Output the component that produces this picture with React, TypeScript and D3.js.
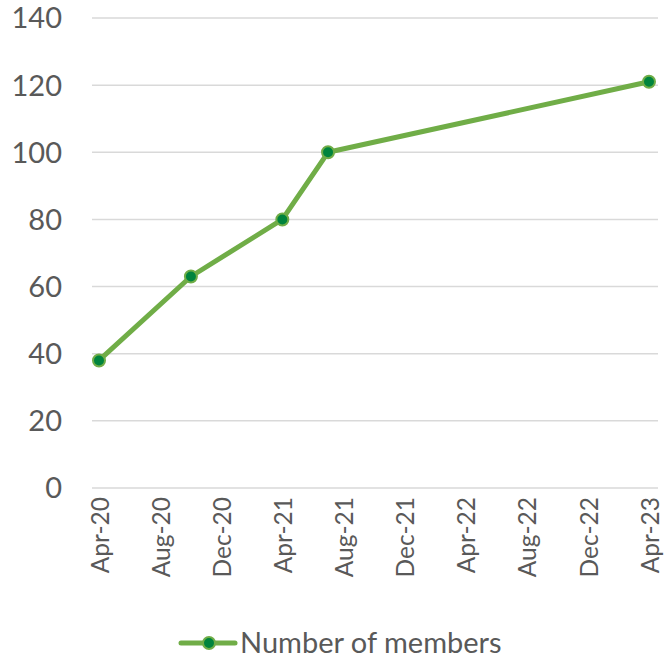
import { useEffect, useRef } from 'react';
import * as d3 from 'd3';

// member counts
const dates = ['2020-04-01', '2020-10-01', '2021-04-01', '2021-07-01', '2023-04-01'];
const members = [38, 63, 80, 100, 121];
const yTicks = [0, 20, 40, 60, 80, 100, 120, 140];
const seriesName = 'Number of members';

const W = 666;
const H = 659;
const FONT = 'Lato, "Open Sans", sans-serif';
const TEXT = '#595959';
const LINE = '#70AD47';
const MARK = '#00843D';

export default function App() {
  const svgRef = useRef<SVGSVGElement>(null);

  useEffect(() => {
    if (!svgRef.current) return;
    const svg = d3.select(svgRef.current);
    svg.selectAll('*').remove();

    const parse = d3.timeParse('%Y-%m-%d');
    const pts = dates.map((d, i) => ({ date: parse(d)!, value: members[i] }));

    const start = parse('2020-04-01')!;
    const end = parse('2023-04-01')!;
    const x = d3.scaleTime().domain([start, end]).range([99, 649]);
    const y = d3.scaleLinear().domain([0, 140]).range([488, 18]);

    const gridLeft = 92;
    const gridRight = 658;

    // gridlines
    svg.append('g')
      .selectAll('line')
      .data(yTicks)
      .enter()
      .append('line')
      .attr('x1', gridLeft)
      .attr('x2', gridRight)
      .attr('y1', d => y(d))
      .attr('y2', d => y(d))
      .attr('stroke', '#d9d9d9')
      .attr('stroke-width', 1.5);

    // y labels
    svg.append('g')
      .selectAll('text')
      .data(yTicks)
      .enter()
      .append('text')
      .attr('x', 62)
      .attr('y', d => y(d))
      .attr('dy', '0.36em')
      .attr('text-anchor', 'end')
      .attr('font-family', FONT)
      .attr('font-size', 29)
      .attr('fill', TEXT)
      .text(d => d);

    // x labels, every 4 months
    const xTicks = d3.timeMonth.range(start, d3.timeMonth.offset(end, 1), 4);
    const fmt = d3.timeFormat('%b-%y');
    svg.append('g')
      .selectAll('text')
      .data(xTicks)
      .enter()
      .append('text')
      .attr('transform', d => `translate(${x(d) + 9.5},497) rotate(-90)`)
      .attr('text-anchor', 'end')
      .attr('font-family', FONT)
      .attr('font-size', 24.5)
      .attr('fill', TEXT)
      .text(d => fmt(d));

    // series line
    const line = d3.line<{ date: Date; value: number }>()
      .x(d => x(d.date))
      .y(d => y(d.value));

    svg.append('path')
      .datum(pts)
      .attr('d', line)
      .attr('fill', 'none')
      .attr('stroke', LINE)
      .attr('stroke-width', 5)
      .attr('stroke-linejoin', 'round');

    svg.append('g')
      .selectAll('circle')
      .data(pts)
      .enter()
      .append('circle')
      .attr('cx', d => x(d.date))
      .attr('cy', d => y(d.value))
      .attr('r', 6)
      .attr('fill', MARK)
      .attr('stroke', LINE)
      .attr('stroke-width', 2);

    // legend
    const lg = svg.append('g').attr('transform', 'translate(0,643)');
    lg.append('line')
      .attr('x1', 181)
      .attr('x2', 235)
      .attr('stroke', LINE)
      .attr('stroke-width', 5)
      .attr('stroke-linecap', 'round');
    lg.append('circle')
      .attr('cx', 209)
      .attr('r', 6)
      .attr('fill', MARK)
      .attr('stroke', LINE)
      .attr('stroke-width', 2);
    lg.append('text')
      .attr('x', 240)
      .attr('dy', '0.36em')
      .attr('font-family', FONT)
      .attr('font-size', 29)
      .attr('fill', TEXT)
      .text(seriesName);
  }, []);

  return (
    <svg
      ref={svgRef}
      width={W}
      height={H}
      style={{ position: 'fixed', left: 0, top: 0, background: '#fff' }}
    />
  );
}
